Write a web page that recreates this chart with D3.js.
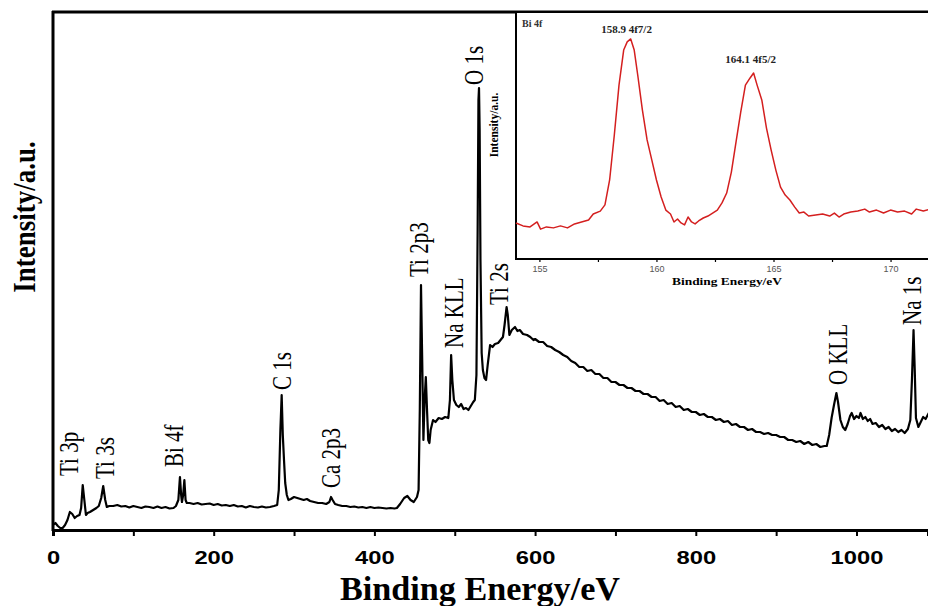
<!DOCTYPE html>
<html>
<head>
<meta charset="utf-8">
<script src="https://cdn.jsdelivr.net/npm/d3@7"></script>
<style>
  body { margin: 0; background: #fff; }
  svg { display: block; }
</style>
</head>
<body>
<script>
'use strict';

// survey spectrum (binding energy in eV, intensity in a.u.)
let surveyEnergy = [
  0, 3, 6, 9, 12, 15, 18, 21, 24, 27, 30, 33, 35, 37, 39, 41, 43, 46, 50, 54, 57, 60, 62.5, 65, 67, 70, 75,
  80, 85, 90, 95, 100, 105, 110, 115, 120, 125, 130, 135, 140, 145, 150, 153, 156, 158, 159.5, 160.5, 162, 163.5, 165, 166.5,
  170, 175, 180, 185, 190, 195, 200, 205, 210, 215, 220, 225, 230, 235, 240, 245, 250, 255, 260, 265, 270, 275, 279,
  281, 283, 284.6, 286, 287.5, 289, 291, 293, 296, 300, 304, 308, 312, 316, 320, 325, 330, 335, 340, 344, 346, 348, 351,
  355, 360, 365, 370, 375, 380, 385, 390, 395, 400, 405, 410, 415, 420, 425, 428, 432, 437, 441, 445, 449, 453, 455,
  456.5, 458, 459.5, 461, 462.5, 464, 465.5, 467, 468.5, 470, 473, 476, 480, 484, 488, 492, 494, 495.5, 497, 499,
  502, 505, 508, 511, 514, 517, 520, 523, 525, 527, 528.5, 529.5, 530.2, 531, 532, 533.5, 535, 537, 539, 541, 544,
  547, 550, 554, 557, 560, 562, 564.5, 566, 568, 571, 575, 578, 581, 585, 590, 594, 598,
  600, 605, 610, 615, 620, 625, 630, 635, 640, 645, 650, 655, 660, 665, 670, 675, 680, 685, 690, 695,
  700, 705, 710, 715, 720, 725, 730, 735, 740, 745, 750, 755, 760, 765, 770, 775, 780, 785, 790, 795,
  800, 805, 810, 815, 820, 825, 830, 835, 840, 845, 850, 855, 860, 865, 870, 875, 880, 885, 890, 895,
  900, 905, 910, 915, 920, 925, 930, 935, 940, 945, 950, 955, 960, 963, 966, 969, 972, 975, 977, 980,
  983, 986, 989, 992, 994, 997, 1000, 1003, 1005, 1008, 1011, 1014, 1017, 1020, 1024, 1028, 1032, 1036,
  1040, 1044, 1048, 1052, 1056, 1060, 1064, 1067, 1069, 1071, 1072.5, 1074, 1077, 1080, 1083, 1086, 1090
];
let surveyIntensity = [
  5, 7, 4, 2, 2, 5, 10, 18, 16, 12, 14, 15, 22, 45, 30, 15, 17, 18, 20, 22, 24, 32, 44, 30, 23, 24, 24,
  25, 23.5, 24, 22.5, 24, 23, 22, 23.5, 23, 22, 23.5, 22, 23, 21.5, 22, 24, 30, 53, 35, 28, 35, 50, 30, 27,
  27, 26, 27, 25.5, 26, 26.5, 25, 26, 24.5, 25, 24, 25, 23.5, 24, 22.5, 24, 23, 22.5, 23.5, 22.5, 23, 24, 25,
  40, 100, 135, 95, 70, 47, 35, 30, 31, 33, 32, 31, 30, 31, 29, 28, 27, 27, 26, 28, 33, 30, 26,
  25, 24, 24, 23, 23.5, 22.5, 23, 22, 23, 22, 22.5, 22, 21.5, 22, 21.5, 22, 26, 32, 34, 30, 28, 33, 40,
  120, 245, 170, 90, 130, 153, 120, 90, 87, 100, 110, 108, 112, 111, 113, 112, 130, 175, 150, 130,
  125, 123, 126, 121, 122, 120, 124, 128, 130, 155, 300, 430, 442, 400, 270, 177, 160, 152, 150, 165, 185,
  183, 186, 187, 190, 193, 205, 223, 215, 195, 200, 203, 199, 200, 196, 195, 193, 190,
  191, 188, 188, 184, 183, 180, 178, 175, 173, 169, 167, 163, 163, 159, 160, 156, 156, 152, 152, 148,
  148, 145, 145, 142, 142, 139, 139, 136, 136, 133, 133, 129, 130, 126, 127, 123, 124, 120, 121, 118,
  118, 115, 116, 113, 113, 110, 111, 108, 109, 105, 106, 103, 103, 100, 101, 98, 98, 96, 97, 95,
  95, 93, 93, 90, 90, 88, 89, 86, 88, 85, 86, 83, 84, 84, 95, 112, 125, 137, 128, 110,
  103, 100, 106, 114, 117, 111, 114, 112, 117, 111, 113, 109, 111, 106, 107, 103, 105, 101,
  103, 99, 101, 98, 100, 97, 101, 110, 150, 200, 160, 112, 103, 108, 113, 111, 117
];

// peak labels: name, energy of the label baseline, intensity level of the label start
let labelNames = ['Ti 3p', 'Ti 3s', 'Bi 4f', 'C 1s', 'Ca 2p3', 'Ti 2p3', 'Na KLL', 'O 1s', 'Ti 2s', 'O KLL', 'Na 1s'];
let labelEnergy = [31, 76, 162, 296, 357, 467, 510, 535, 566, 988, 1080];
let labelLevel = [54, 51, 63, 140, 42, 253, 182, 445, 225, 145, 205];

let surveyTicks = [0, 100, 200, 300, 400, 500, 600, 700, 800, 900, 1000];

// Bi 4f high resolution inset
let insetEnergy = [
  154.0, 154.3, 154.6, 154.9, 155.05, 155.3, 155.6, 155.9, 156.2, 156.5, 156.8, 157.1, 157.3, 157.6, 157.8,
  158.0, 158.2, 158.4, 158.6, 158.75, 158.9, 159.05, 159.2, 159.4, 159.6, 159.8, 160.0, 160.2, 160.4, 160.6,
  160.75, 160.9, 161.05, 161.2, 161.35, 161.5, 161.65, 161.8, 162.0, 162.2, 162.4, 162.6, 162.8, 163.0, 163.2,
  163.4, 163.6, 163.8, 164.0, 164.15, 164.3, 164.5, 164.7, 164.9, 165.1, 165.3, 165.5, 165.7, 165.9, 166.1,
  166.3, 166.5, 166.8, 167.1, 167.4, 167.6, 167.8, 168.0, 168.3, 168.6, 168.9, 169.1, 169.4, 169.7, 170.0,
  170.3, 170.6, 170.9, 171.1, 171.4, 171.7
];
let insetIntensity = [
  14.6, 13.4, 13.0, 15.0, 12.1, 13.0, 12.6, 13.4, 12.6, 14.2, 15.0, 15.8, 18.2, 19.4, 21.9,
  32.0, 50.2, 70.4, 84.6, 87.9, 89.1, 84.6, 74.5, 60.3, 48.2, 40.1, 32.0, 25.1, 19.8, 18.2,
  15.0, 16.2, 14.6, 13.8, 17.0, 15.0, 14.2, 15.4, 16.6, 17.4, 18.6, 19.8, 22.7, 26.7, 35.2,
  47.4, 59.5, 70.4, 73.3, 75.3, 70.4, 64.4, 53.0, 44.1, 36.0, 29.1, 25.9, 23.9, 21.1, 18.6,
  19.0, 17.4, 17.8, 18.2, 17.4, 18.6, 17.0, 18.2, 19.0, 19.4, 20.2, 19.0, 19.8, 18.6, 19.8,
  19.0, 19.4, 18.2, 20.2, 19.4, 20.2
];
let insetTicks = [155, 157.5, 160, 162.5, 165, 167.5, 170];
let insetPeakText = ['158.9 4f7/2', '164.1 4f5/2'];
let insetPeakEnergy = [158.85, 164.15];

let width = 928;
let height = 606;
let serif = '"Liberation Serif", "Times New Roman", serif';
let sans = '"Liberation Sans", Arial, sans-serif';

let svg = d3.select('body').append('svg')
  .attr('width', width)
  .attr('height', height);

// ---- main survey ----
let x = d3.scaleLinear().domain([0, 1089]).range([53, 928]);
let y = d3.scaleLinear().domain([0, 518]).range([530, 12]);

svg.append('clipPath').attr('id', 'clip')
  .append('rect').attr('x', 53).attr('y', 12).attr('width', 875).attr('height', 518);

let line = d3.line()
  .x(function(d, i) { return x(surveyEnergy[i]); })
  .y(function(d) { return y(d); });

svg.append('path')
  .datum(surveyIntensity)
  .attr('clip-path', 'url(#clip)')
  .attr('fill', 'none')
  .attr('stroke', '#000')
  .attr('stroke-width', 2.2)
  .attr('stroke-linejoin', 'round')
  .attr('d', line);

let xAxis = svg.append('g')
  .attr('transform', 'translate(0,530)')
  .call(d3.axisBottom(x)
    .tickValues(surveyTicks)
    .tickSize(6)
    .tickPadding(15)
    .tickFormat(function(d) { return d % 200 === 0 ? d : ''; }));
xAxis.select('.domain').attr('stroke-width', 3);
xAxis.selectAll('.tick line').attr('stroke-width', 2);
xAxis.selectAll('.tick text')
  .attr('font-family', sans)
  .attr('font-weight', 'bold')
  .attr('font-size', 19)
  .attr('fill', '#000')
  .attr('transform', 'scale(1.25,1)');

// left axis and top frame
svg.append('line')
  .attr('x1', 53).attr('x2', 53).attr('y1', 11).attr('y2', 531)
  .attr('stroke', '#000').attr('stroke-width', 3);
svg.append('line')
  .attr('x1', 52).attr('x2', 928).attr('y1', 12).attr('y2', 12)
  .attr('stroke', '#000').attr('stroke-width', 3);

svg.append('text')
  .attr('x', 480).attr('y', 600)
  .attr('text-anchor', 'middle')
  .attr('font-family', serif)
  .attr('font-weight', 'bold')
  .attr('font-size', 34)
  .attr('textLength', 280)
  .attr('lengthAdjust', 'spacingAndGlyphs')
  .text('Binding Energy/eV');

svg.append('text')
  .attr('transform', 'translate(35,217) scale(1.2,1) rotate(-90)')
  .attr('text-anchor', 'middle')
  .attr('font-family', serif)
  .attr('font-weight', 'bold')
  .attr('font-size', 27)
  .text('Intensity/a.u.');

svg.append('g').selectAll('text')
  .data(labelNames)
  .enter().append('text')
    .attr('transform', function(d, i) {
      return 'translate(' + x(labelEnergy[i]) + ',' + y(labelLevel[i]) + ') scale(1.35,1) rotate(-90)';
    })
    .attr('font-family', serif)
    .attr('font-size', 21)
    .text(function(d) { return d; });

// ---- inset ----
let ix = d3.scaleLinear().domain([154, 171.6]).range([516, 928]);
let iy = d3.scaleLinear().domain([0, 100]).range([259, 12]);

svg.append('rect')
  .attr('x', 516).attr('y', 12).attr('width', 420).attr('height', 247)
  .attr('fill', '#fff')
  .attr('stroke', '#000')
  .attr('stroke-width', 2);

let insetLine = d3.line()
  .x(function(d, i) { return ix(insetEnergy[i]); })
  .y(function(d) { return iy(d); });

svg.append('path')
  .datum(insetIntensity)
  .attr('fill', 'none')
  .attr('stroke', '#d41f1f')
  .attr('stroke-width', 1.5)
  .attr('stroke-linejoin', 'round')
  .attr('d', insetLine);

let ixAxis = svg.append('g')
  .attr('transform', 'translate(0,259)')
  .call(d3.axisBottom(ix)
    .tickValues(insetTicks)
    .tickSize(3)
    .tickPadding(4)
    .tickFormat(function(d) { return d % 5 === 0 ? d : ''; }));
ixAxis.select('.domain').remove();
ixAxis.selectAll('.tick line').attr('stroke-width', 1.2);
ixAxis.selectAll('.tick text')
  .attr('font-family', sans)
  .attr('font-size', 9)
  .attr('fill', '#555');

svg.append('text')
  .attr('x', 727).attr('y', 285)
  .attr('text-anchor', 'middle')
  .attr('font-family', serif)
  .attr('font-weight', 'bold')
  .attr('font-size', 11)
  .attr('textLength', 110)
  .attr('lengthAdjust', 'spacingAndGlyphs')
  .text('Binding Energy/eV');

svg.append('text')
  .attr('transform', 'translate(498,125) rotate(-90)')
  .attr('text-anchor', 'middle')
  .attr('font-family', serif)
  .attr('font-weight', 'bold')
  .attr('font-size', 11.5)
  .text('Intensity/a.u.');

svg.append('text')
  .attr('x', 522).attr('y', 27)
  .attr('font-family', serif)
  .attr('font-weight', 'bold')
  .attr('font-size', 10)
  .attr('fill', '#333')
  .text('Bi 4f');

svg.append('g').selectAll('text')
  .data(insetPeakText)
  .enter().append('text')
    .attr('x', function(d, i) { return ix(insetPeakEnergy[i]) - 3; })
    .attr('y', function(d, i) { return iy(d3.max(insetIntensity)) + (i === 0 ? -6 : 24); })
    .attr('text-anchor', 'middle')
    .attr('font-family', serif)
    .attr('font-weight', 'bold')
    .attr('font-size', 11)
    .attr('fill', '#222')
    .text(function(d) { return d; });
</script>
</body>
</html>
